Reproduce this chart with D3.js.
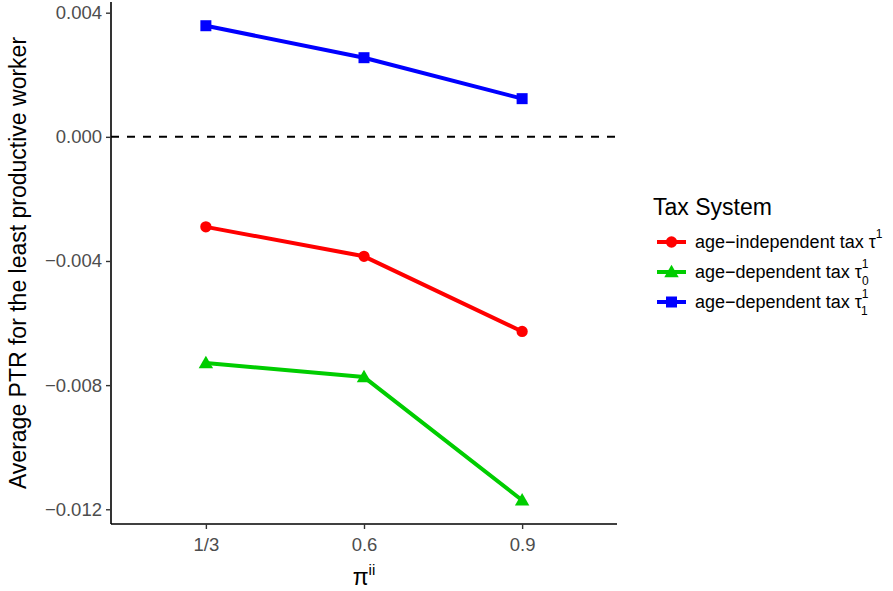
<!DOCTYPE html>
<html><head><meta charset="utf-8">
<script src="https://cdn.jsdelivr.net/npm/d3@7"></script>
<style>body{margin:0;background:#fff}svg{display:block;font-family:"Liberation Sans",Arial,sans-serif}</style>
</head><body>
<svg id="chart" width="893" height="591"></svg>
<script>
const categories = ["1/3", "0.6", "0.9"];
const indepTau = [-0.0029, -0.00385, -0.00627];
const depTau0 = [-0.00729, -0.00774, -0.01171];
const depTau1 = [0.00358, 0.00255, 0.00123];
const yTicks = [0.004, 0.000, -0.004, -0.008, -0.012];
const seriesNames = ["age\u2212independent tax \u03C4", "age\u2212dependent tax \u03C4", "age\u2212dependent tax \u03C4"];
const seriesColors = ["#FF0000", "#00CD00", "#0000FF"];
const seriesShapes = ["circle", "triangle", "square"];

const series = [indepTau, depTau0, depTau1].map((v, i) => ({
  values: v, name: seriesNames[i], color: seriesColors[i], shape: seriesShapes[i]
}));

const svg = d3.select("#chart");
const m = {left: 111, right: 617, top: 2, bottom: 524};

const x = d3.scalePoint().domain(categories).range([m.left, m.right]).padding(0.6);
const all = [].concat(indepTau, depTau0, depTau1);
const lo = d3.min(all), hi = d3.max(all), ex = (hi - lo) * 0.05;
const y = d3.scaleLinear().domain([lo - ex, hi + ex]).range([m.bottom, m.top]);

// zero reference line
svg.append("line").attr("x1", m.left).attr("x2", m.right)
  .attr("y1", y(0)).attr("y2", y(0))
  .attr("stroke", "#000").attr("stroke-width", 2).attr("stroke-dasharray", "8,8");

function symbolPath(shape, size) {
  const t = shape === "circle" ? d3.symbolCircle : shape === "triangle" ? d3.symbolTriangle : d3.symbolSquare;
  return d3.symbol().type(t).size(size)();
}
const sizes = {circle: 100, triangle: 90, square: 121};

const line = d3.line().x((d, i) => x(categories[i])).y(d => y(d));
series.forEach(s => {
  svg.append("path").datum(s.values).attr("d", line)
    .attr("fill", "none").attr("stroke", s.color).attr("stroke-width", 4)
    .attr("stroke-linejoin", "round");
  svg.selectAll(null).data(s.values).enter().append("path")
    .attr("d", symbolPath(s.shape, sizes[s.shape]))
    .attr("transform", (d, i) => `translate(${x(categories[i])},${y(d) + (s.shape === "triangle" ? 1 : 0)})`)
    .attr("fill", s.color);
});

// axes
const yAxis = svg.append("g").attr("transform", `translate(${m.left},0)`)
  .call(d3.axisLeft(y).tickValues(yTicks).tickFormat(d3.format(".3f")).tickSize(5).tickPadding(4));
const xAxis = svg.append("g").attr("transform", `translate(0,${m.bottom})`)
  .call(d3.axisBottom(x).tickSize(5).tickPadding(9));
[yAxis, xAxis].forEach(g => {
  g.select(".domain").attr("stroke", "#000").attr("stroke-width", 1.6);
  g.selectAll(".tick line").attr("stroke", "#333").attr("stroke-width", 1.4);
  g.selectAll(".tick text").attr("fill", "#4D4D4D").attr("font-size", 18.5)
    .attr("font-family", "Liberation Sans, Arial, sans-serif");
});
xAxis.select(".domain").attr("d", `M${m.left},0H${m.right}`);
yAxis.select(".domain").attr("d", `M0,${m.top}V${m.bottom}`);

// axis titles
svg.append("text").attr("transform", `translate(26,${(m.top + m.bottom) / 2}) rotate(-90)`)
  .attr("text-anchor", "middle").attr("font-size", 23).attr("fill", "#000")
  .text("Average PTR for the least productive worker");
const xt = svg.append("text").attr("x", x("0.6")).attr("y", 585)
  .attr("text-anchor", "middle").attr("font-size", 23).attr("fill", "#000");
xt.append("tspan").text("\u03C0");
xt.append("tspan").attr("font-size", 15).attr("dy", -10).text("ii");

// legend
svg.append("text").attr("x", 653).attr("y", 215).attr("font-size", 23).attr("fill", "#000").text("Tax System");
const subs = [null, "0", "1"];
series.forEach((s, i) => {
  const ky = 242 + i * 30;
  svg.append("line").attr("x1", 657).attr("x2", 686).attr("y1", ky).attr("y2", ky)
    .attr("stroke", s.color).attr("stroke-width", 4);
  svg.append("path").attr("d", symbolPath(s.shape, sizes[s.shape]))
    .attr("transform", `translate(671.5,${ky + (s.shape === "triangle" ? 1 : 0)})`).attr("fill", s.color);
  const t = svg.append("text").attr("x", 695).attr("y", ky + 6).attr("font-size", 18).attr("fill", "#000");
  t.append("tspan").text(s.name);
  t.append("tspan").attr("font-size", 12).attr("dy", -10).text("1");
  if (subs[i]) t.append("tspan").attr("font-size", 12).attr("dx", -6.5).attr("dy", 17).text(subs[i]);
});
</script>
</body></html>
